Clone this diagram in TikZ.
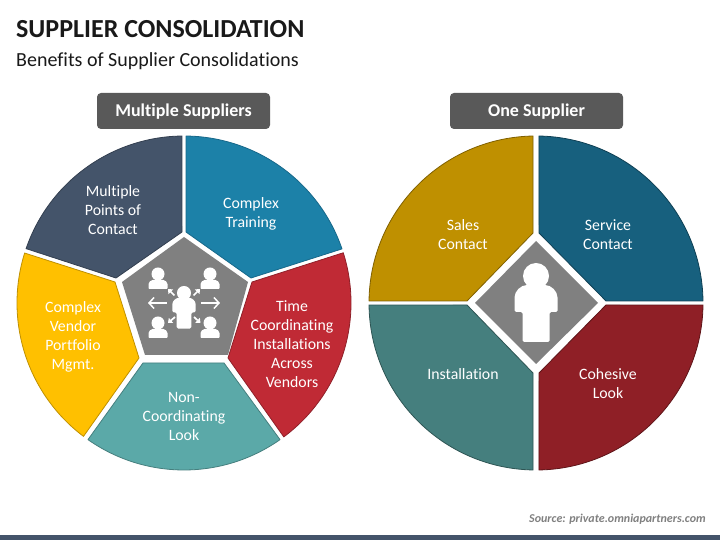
\documentclass[tikz,border=0pt]{standalone}
\usepackage{fontspec}
\setmainfont[Ligatures=CommonOff]{Carlito}
\usetikzlibrary{arrows.meta}

\definecolor{navy}{HTML}{44546A}
\definecolor{navyedge}{HTML}{333F50}
\definecolor{blue}{HTML}{1C81A8}
\definecolor{blueedge}{HTML}{17688A}
\definecolor{crimson}{HTML}{C02A35}
\definecolor{crimsonedge}{HTML}{8F2029}
\definecolor{seafoam}{HTML}{5BA9A8}
\definecolor{seafoamedge}{HTML}{457F7E}
\definecolor{amber}{HTML}{FFC000}
\definecolor{amberedge}{HTML}{BF9000}
\definecolor{petrol}{HTML}{17607E}
\definecolor{petroledge}{HTML}{0F4054}
\definecolor{wine}{HTML}{8F1F26}
\definecolor{wineedge}{HTML}{5F1519}
\definecolor{pine}{HTML}{457F7E}
\definecolor{pineedge}{HTML}{2E5554}
\definecolor{gold}{HTML}{BF9000}
\definecolor{goldedge}{HTML}{806000}

\tikzset{
    slice/.style={line width=.8pt, line join=round},
    sliceText/.style={text=white, align=center, inner sep=0pt, font=\fontsize{15.8}{19}\selectfont},
    header/.style={fill=black!65, rounded corners=4pt, text=white, inner sep=0pt, minimum width=173pt, minimum height=36pt, text height=12pt, text depth=0pt, font=\bfseries\fontsize{18}{21}\selectfont},
    centerShape/.style={fill=black!50},
    bigArrow/.style={white, line width=1.5pt, -{Straight Barb[length=5pt,width=11pt]}},
    tinyArrow/.style={white, line width=1.7pt, -{Triangle[length=4pt,width=6.5pt]}},
    person/.pic={
        \fill[white] (0,0) circle[radius=13];
        \fill[white, rounded corners=1.5pt] (-21.5,-36) -- (-21.5,-23) arc[start angle=180, end angle=90, radius=14]
            -- (7.5,-9) arc[start angle=90, end angle=0, radius=14] -- (21.5,-36) -- (13.5,-36) -- (13.5,-66) -- (-13.5,-66) -- (-13.5,-36) -- cycle;
    },
    bust/.pic={
        \fill[white] (0,0) circle[radius=6.5];
        \fill[white, rounded corners=.8pt] (-9.5,-15) -- (-9.5,-11) arc[start angle=180, end angle=90, radius=5]
            -- (4.5,-6) arc[start angle=90, end angle=0, radius=5] -- (9.5,-15) -- cycle;
    },
}

\begin{document}
\begin{tikzpicture}[x=1pt, y=1pt]
    \useasboundingbox (0,0) rectangle (720,540);
    \fill[white] (0,0) rectangle (720,540);
    \fill[navy] (0,0) rectangle (720,5);

    \node[anchor=west, inner sep=0pt, font=\bfseries\fontsize{26}{30}\selectfont, text=black!90] (title) at (16,511) {SUPPLIER CONSOLIDATION};
    \node[anchor=west, inner sep=0pt, font=\fontsize{20}{24}\selectfont, text=black!90] (subtitle) at (16,479) {Benefits of Supplier Consolidations};

    \node[header] (many) at (183.5,429) {Multiple Suppliers};
    \node[header] (one) at (536.5,429) {One Supplier};

    \draw[slice, fill=navy, draw=navyedge] (184,237) ++(90.7:167) arc[start angle=90.7, end angle=161, radius=167] -- (116,262) -- (182,308) -- cycle;
    \draw[slice, fill=blue, draw=blueedge] (184,237) ++(89.3:167) arc[start angle=89.3, end angle=18.9, radius=167] -- (251,262) -- (186,308) -- cycle;
    \draw[slice, fill=crimson, draw=crimsonedge] (184,237) ++(17.5:167) arc[start angle=17.5, end angle=-53.3, radius=167] -- (228,182) -- (252,258) -- cycle;
    \draw[slice, fill=seafoam, draw=seafoamedge] (184,237) ++(-54.9:167) arc[start angle=-54.9, end angle=-125.1, radius=167] -- (143,177) -- (224,177) -- cycle;
    \draw[slice, fill=amber, draw=amberedge] (184,237) ++(-127:167) arc[start angle=-127, end angle=-197.4, radius=167] -- (115,258) -- (139,182) -- cycle;
    \fill[centerShape] (184,303) -- (248,258) -- (228,185) -- (145,185) -- (122,258) -- cycle;

    \draw[slice, fill=gold, draw=goldedge] (536,237) ++(91:167) arc[start angle=91, end angle=179.3, radius=167] -- (467,239) -- (533,307) -- cycle;
    \draw[slice, fill=petrol, draw=petroledge] (536,237) ++(89:167) arc[start angle=89, end angle=0.7, radius=167] -- (606,239) -- (539,307) -- cycle;
    \draw[slice, fill=pine, draw=pineedge] (536,237) ++(-179.3:167) arc[start angle=-179.3, end angle=-91, radius=167] -- (533,167) -- (467,235) -- cycle;
    \draw[slice, fill=wine, draw=wineedge] (536,237) ++(-89:167) arc[start angle=-89, end angle=-0.7, radius=167] -- (606,235) -- (539,167) -- cycle;
    \fill[centerShape] (536,299) -- (598,237) -- (536,176) -- (475,237) -- cycle;

    \node[sliceText] (points) at (113,330) {Multiple\\Points of\\Contact};
    \node[sliceText] (training) at (251,326) {Complex\\Training};
    \node[sliceText] (time) at (292,195.5) {Time\\Coordinating\\Installations\\Across\\Vendors};
    \node[sliceText] (look) at (184,124) {Non-\\Coordinating\\Look};
    \node[sliceText] (portfolio) at (73,203.5) {Complex\\Vendor\\Portfolio\\Mgmt.};
    \node[sliceText] (sales) at (463,305) {Sales\\Contact};
    \node[sliceText] (service) at (608,305) {Service\\Contact};
    \node[sliceText] (install) at (463,166) {Installation};
    \node[sliceText] (cohesive) at (608,156.5) {Cohesive\\Look};

    \pic at (536,264) {person};
    \pic[scale=.54] at (184,247) {person};
    \pic at (158,266) {bust};
    \pic at (210,266) {bust};
    \pic at (158,217) {bust};
    \pic at (210,217) {bust};

    \draw[bigArrow] (167,237) -- (148,237);
    \draw[bigArrow] (201,237) -- (220,237);
    \draw[tinyArrow] (174.5,244.5) -- (168,251);
    \draw[tinyArrow] (193.5,244.5) -- (200,251);
    \draw[tinyArrow] (175,223) -- (168,217);
    \draw[tinyArrow] (194,223) -- (200.5,217);

    \node[anchor=east, inner sep=0pt, font=\bfseries\itshape\fontsize{12}{14}\selectfont, text=black!50] (source) at (706,21) {Source: private.omniapartners.com};
\end{tikzpicture}
\end{document}
